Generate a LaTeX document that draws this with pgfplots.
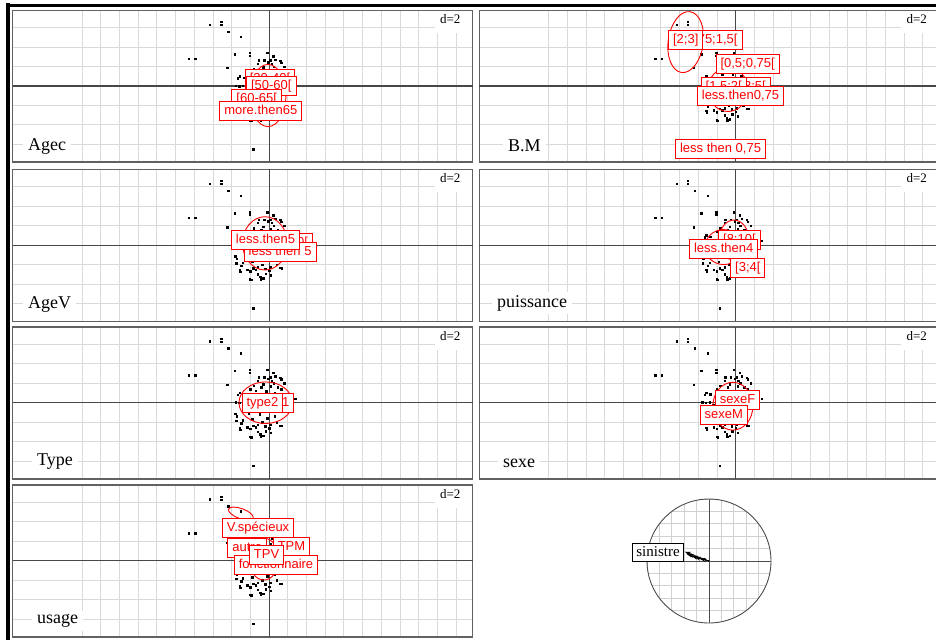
\documentclass[border=0pt]{standalone}
\usepackage{pgfplots}
\pgfplotsset{compat=1.18}
\usepackage{pgfplotstable}
\usetikzlibrary{arrows.meta}
\usepackage{fontspec}
\setmainfont{Liberation Serif}
\newfontfamily\labfont{Liberation Sans}

\pgfplotstableread{
x y
-3.16 3.16
-2.55 3.30
-2.57 3.15
-2.18 2.80
-1.51 2.55
-4.30 1.42
-3.96 1.42
-1.85 1.64
-1.05 1.70
-1.05 1.55
-2.23 0.93
-0.84 -3.25
1.39 0.22
-1.67 0.40
-0.10 1.70
0.22 1.53
0.33 1.36
0.64 1.20
-0.27 1.32
-0.05 1.23
0.13 1.14
-0.60 1.14
-0.31 0.96
-0.42 0.79
0.64 0.70
0.45 0.79
-0.82 0.88
-0.73 0.61
-1.00 0.70
-1.58 0.51
-1.36 0.44
0.05 1.32
0.59 1.30
-0.57 1.32
0.25 1.00
0.10 0.85
-0.15 0.60
0.30 0.50
0.50 0.35
-0.50 0.40
-0.20 0.30
0.15 0.20
0.80 1.00
-0.90 0.20
-1.80 0.02
-1.60 0.00
-1.40 0.02
-1.20 -0.10
-0.60 0.05
0.35 -0.10
0.70 0.10
-1.82 -0.58
-1.73 -0.70
-1.76 -0.93
-1.58 -1.28
-1.18 -1.25
-1.00 -1.35
-0.85 -1.18
-0.73 -1.25
-0.95 -1.77
-0.45 -1.75
-0.31 -1.70
-0.18 -1.46
0.00 -1.32
0.05 -1.14
0.69 -1.18
-0.60 -1.14
-0.36 -1.00
-1.27 -0.44
-1.09 -0.53
-0.50 -0.60
-0.10 -0.80
0.30 -0.70
0.40 -1.00
-0.90 -0.85
-1.40 -0.90
-0.20 -1.20
0.10 -1.55
-0.60 -1.50
0.20 -0.40
-0.30 -0.30
-1.50 -1.05
-1.55 -1.38
-1.02 -1.75
-0.48 -1.63
0.59 -1.17
}\cloud

\pgfplotstableread{
x y u v
0 0 -0.39 0.15
0 0 -0.37 0.12
0 0 -0.34 0.11
0 0 -0.28 0.08
0 0 -0.23 0.06
0 0 -0.15 0.04
}\arrows

\pgfplotsset{panel/.style={
  anchor=north west, scale only axis, width=460pt, height=152pt,
  xmin=-13.71, xmax=10.89, ymin=-3.92, ymax=3.90,
  xtick={-10,...,-1,1,2,...,10}, ytick={-3,-2,-1,1,2,3},
  xticklabels={}, yticklabels={},
  extra x ticks={0}, extra y ticks={0},
  extra x tick labels={}, extra y tick labels={},
  major tick length=0pt, tick style={draw=none},
  grid=major, major grid style={draw=black!15, line width=0.9pt},
  extra tick style={grid=major, major grid style={draw=black!72, line width=1.1pt}},
  axis line style={draw=black!62, line width=1.4pt},
  clip marker paths=true,
}}

\tikzset{
  lab/.style={draw=red, fill=white, text=red, line width=1pt,
    font=\labfont\fontsize{13}{13}\selectfont, inner xsep=4.5pt, inner ysep=3.5pt,
    text height=9.5pt, text depth=2.5pt},
  ell/.style={draw=red, line width=0.9pt},
  ttl/.style={fill=white, anchor=west, font=\fontsize{18}{18}\selectfont, inner xsep=5pt, inner ysep=3pt},
  dlab/.style={font=\fontsize{13}{13}\selectfont, inner sep=0pt},
}

% #1 left, #2 top, #3 content inside axis, #4 labels drawn on top
\newcommand{\panelaxis}[4]{%
\begin{axis}[panel, at={(#1pt,-#2pt)}]
\addplot[only marks, mark=square*, mark size=0.7pt, black] table {\cloud};
#3
\end{axis}
#4
\fill[white] ({#1pt+422pt},{-#2pt-1pt}) rectangle ({#1pt+459pt},{-#2pt-23pt});
\node[dlab] at ({#1pt+437.5pt},{-#2pt-9pt}) {d=2};
}

\begin{document}
\begin{tikzpicture}
\useasboundingbox (0,0) rectangle (936pt,-640pt);
\clip (0,0) rectangle (936pt,-640pt);
\fill[white] (0,0) rectangle (936pt,-640pt);

% Agec
\panelaxis{12.7}{10.2}{%
\draw[ell] (axis cs:-0.06,-0.49) ellipse [x radius=0.96, y radius=1.6];
\coordinate (a) at (axis cs:0.05,0.38);
\coordinate (b) at (axis cs:0.12,-0.01);
\coordinate (c) at (axis cs:-0.66,-0.65);
\coordinate (d) at (axis cs:-0.44,-1.27);
}{%
\node[lab] at (a) {[30-40[};
\node[lab] at (b) {[50-60[};
\node[lab] at (c) {[60-65[};
\node[lab] at (d) {more.then65};
}
\node[ttl] at (23pt,-146pt) {Agec};

% B.M
\panelaxis{479.3}{10.2}{%
\draw[ell, rotate around={-8:(axis cs:-2.67,2.26)}] (axis cs:-2.67,2.26) ellipse [x radius=0.94, y radius=1.58];
\draw[ell] (axis cs:-0.41,-0.18) ellipse [x radius=1.07, y radius=1.13];
\coordinate (a) at (axis cs:-1.35,2.38);
\coordinate (b) at (axis cs:-2.67,2.38);
\coordinate (c) at (axis cs:0.64,1.13);
\coordinate (d) at (axis cs:0.93,-0.03);
\coordinate (e) at (axis cs:-0.64,-0.03);
\coordinate (f) at (axis cs:0.26,-0.52);
\coordinate (g) at (axis cs:-0.81,-3.26);
}{%
\node[lab] at (a) {[0,75;1,5[};
\node[lab] at (b) {[2;3]};
\node[lab] at (c) {[0,5;0,75[};
\node[lab] at (d) {[3;5[};
\node[lab] at (e) {[1,5;2[};
\node[lab] at (f) {less.then0,75};
\node[lab] at (g) {less then 0,75};
}
\node[ttl] at (503pt,-146pt) {B.M};

% AgeV
\panelaxis{12.7}{169.3}{%
\draw[ell] (axis cs:-0.22,0.09) ellipse [x radius=1.2, y radius=1.37];
\coordinate (a) at (axis cs:1.21,0.1);
\coordinate (b) at (axis cs:0.59,-0.37);
\coordinate (c) at (axis cs:-0.19,0.24);
}{%
\node[lab] at (a) {[5;10[};
\node[lab] at (b) {less then 5};
\node[lab] at (c) {less.then5};
}
\node[ttl] at (23pt,-304pt) {AgeV};

% puissance
\panelaxis{479.3}{169.3}{%
\draw[ell] (axis cs:-0.09,0.26) ellipse [x radius=0.8, y radius=1.03];
\draw[ell] (axis cs:-0.64,-0.1) ellipse [x radius=1.0, y radius=0.9];
\coordinate (a) at (axis cs:0.2,0.26);
\coordinate (b) at (axis cs:-0.64,-0.19);
\coordinate (c) at (axis cs:0.65,-1.19);
}{%
\node[lab] at (a) {[8;10[};
\node[lab] at (b) {less.then4};
\node[lab] at (c) {[3;4[};
}
\node[ttl] at (492pt,-303pt) {puissance};

% Type
\panelaxis{12.7}{326.9}{%
\draw[ell] (axis cs:-0.18,0) ellipse [x radius=1.43, y radius=1.07];
\coordinate (a) at (axis cs:0.24,0);
\coordinate (b) at (axis cs:-0.35,0);
}{%
\node[lab] at (a) {type1};
\node[lab] at (b) {type2};
}
\node[ttl] at (32pt,-462pt) {Type};

% sexe
\panelaxis{479.3}{326.9}{%
\draw[ell] (axis cs:-0.15,-0.18) ellipse [x radius=1.07, y radius=1.23];
\coordinate (a) at (axis cs:0.1,0.12);
\coordinate (b) at (axis cs:-0.64,-0.63);
}{%
\node[lab] at (a) {sexeF};
\node[lab] at (b) {sexeM};
}
\node[ttl] at (498pt,-463pt) {sexe};

% usage
\panelaxis{12.7}{485}{%
\draw[ell, rotate around={-20:(axis cs:-1.51,2.43)}] (axis cs:-1.51,2.43) ellipse [x radius=0.7, y radius=0.26];
\draw[ell] (axis cs:-0.28,0.09) ellipse [x radius=0.8, y radius=1.08];
\coordinate (a) at (axis cs:-1.17,0.66);
\coordinate (b) at (axis cs:1.2,0.69);
\coordinate (c) at (axis cs:-0.59,1.67);
\coordinate (d) at (axis cs:0.37,-0.21);
\coordinate (e) at (axis cs:-0.13,0.28);
}{%
\node[lab] at (a) {autre};
\node[lab] at (b) {TPM};
\node[lab] at (c) {V.spécieux};
\node[lab] at (d) {fonctionnaire};
\node[lab] at (e) {TPV};
}
\node[ttl] at (32pt,-621pt) {usage};

% correlation circle
\begin{scope}[shift={(709pt,-561pt)}]
\begin{scope}
\clip (0,0) circle (62pt);
\draw[black!18, line width=0.7pt, step=12.4pt] (-62pt,-62pt) grid (62pt,62pt);
\end{scope}
\draw[black!70, line width=0.9pt] (0,0) circle (62pt);
\draw[black!70, line width=0.9pt] (-62pt,0) -- (62pt,0) (0,-62pt) -- (0,62pt);
\end{scope}
\begin{axis}[at={(709pt,-561pt)}, anchor=center, scale only axis, width=124pt, height=124pt,
  xmin=-1, xmax=1, ymin=-1, ymax=1, hide axis, clip=false]
\addplot[black, line width=0.6pt, -{Stealth[length=6pt,width=4pt]},
  quiver={u=\thisrow{u}, v=\thisrow{v}}] table {\arrows};
\end{axis}
\node[draw=black, fill=white, line width=0.9pt, font=\fontsize{15}{15}\selectfont,
  inner xsep=3.5pt, inner ysep=4pt] at (658pt,-552pt) {sinistre};

% outer frame
\fill[black] (6pt,-3pt) rectangle (10pt,-640pt);
\fill[black] (6pt,-3.5pt) rectangle (936pt,-6.5pt);
\end{tikzpicture}
\end{document}
